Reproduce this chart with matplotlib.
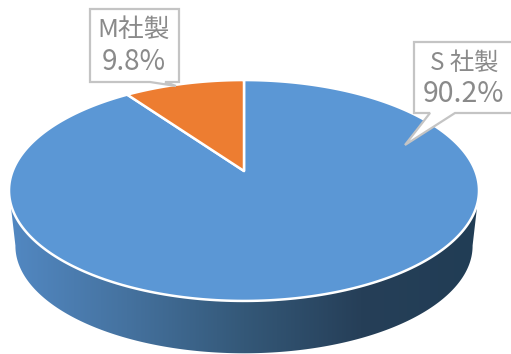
import numpy as np
import matplotlib
matplotlib.use('Agg')
import matplotlib.pyplot as plt
from matplotlib.colors import LinearSegmentedColormap
from matplotlib.patches import Polygon

plt.rcParams['font.family'] = ['Noto Sans CJK JP', 'DejaVu Sans']

# pie data, clockwise from 12 o'clock
names = ['S 社製', 'M社製']
shares = [90.2, 9.8]
colors = ['#5B97D5', '#ED7D31']

# side wall shading, left to right
wall_colors = ['#5288C2', '#45729F', '#345878', '#263F58', '#213D55']

# projection of the disc: tilted, with the back compressed
cx = 244
persp = 0.1765


def rim(theta, radius, height, base):
    u, v = np.sin(theta), np.cos(theta)
    d = 1 + persp * v
    return np.column_stack([cx + radius * u / d, base - height * v / d])


def top(theta):
    return rim(theta, 231.3, 107, 171)


def bottom(theta):
    return rim(theta, 225, 104, 227)


fig = plt.figure(figsize=(5.11, 3.54), dpi=100)
ax = fig.add_axes([0, 0, 1, 1])

# side wall: gradient clipped to the band below the front rim
front = np.radians(np.linspace(100, 260, 200))
under = np.radians(np.linspace(260, 100, 200))
wall = Polygon(np.vstack([top(front), bottom(under)]), closed=True,
               facecolor='none', edgecolor='none')
ax.add_patch(wall)
cmap = LinearSegmentedColormap.from_list('wall', wall_colors)
grad = ax.imshow(np.linspace(0, 1, 256).reshape(1, -1), cmap=cmap,
                 extent=(10, 478, 354, 190), aspect='auto', zorder=1)
grad.set_clip_path(wall)

# top face wedges
start = 0.0
fracs = np.array(shares) / sum(shares)
for frac, col in zip(fracs, colors):
    angles = np.linspace(start, start + 2 * np.pi * frac, 300)
    pts = np.vstack([[cx, 171], top(angles)])
    ax.add_patch(Polygon(pts, closed=True, facecolor=col, edgecolor='white',
                         linewidth=1.8, joinstyle='round', zorder=2))
    start += 2 * np.pi * frac

# callouts
gray = '#C4C4C4'
ax.add_patch(Polygon([(90, 9), (179, 9), (179, 82), (165, 82), (176, 86), (150, 82), (90, 82)],
                     closed=True, facecolor='white', edgecolor=gray, linewidth=1.6, zorder=3))
ax.add_patch(Polygon([(414, 42), (518, 42), (518, 113), (455, 113), (405, 145), (430, 113), (414, 113)],
                     closed=True, facecolor='white', edgecolor=gray, linewidth=1.6, zorder=3))

text_col = '#8A8A8A'
ax.text(134, 30, names[1], fontsize=18.5, color=text_col, ha='center', va='center', zorder=4)
ax.text(134, 62, f'{shares[1]}%', fontsize=20, color=text_col, ha='center', va='center', zorder=4)
ax.text(464, 63, names[0], fontsize=17.5, color=text_col, ha='center', va='center', zorder=4)
ax.text(463, 94, f'{shares[0]}%', fontsize=20.5, color=text_col, ha='center', va='center', zorder=4)

ax.set_xlim(0, 511)
ax.set_ylim(354, 0)
ax.axis('off')
fig.savefig('out.png', dpi=100)
